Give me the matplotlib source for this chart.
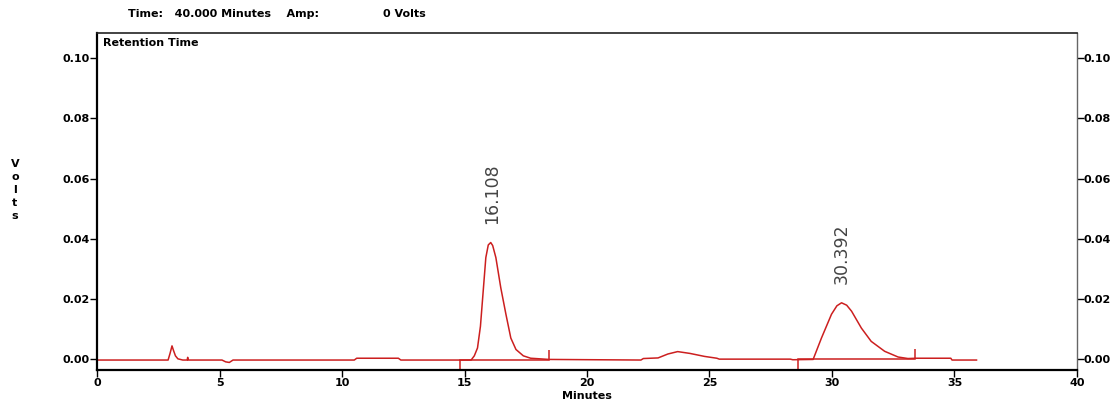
import matplotlib
matplotlib.use("Agg")
import matplotlib.pyplot as plt

# ---- data ----
time_min = [0.0, 2.9, 2.98, 3.06, 3.12, 3.2, 3.3, 3.5, 3.68, 3.7, 3.72, 5.1, 5.25, 5.4, 5.55,
            10.5, 10.6, 12.3, 12.4, 15.27, 15.4, 15.53, 15.65, 15.73, 15.87, 15.97, 16.07,
            16.15, 16.28, 16.48, 16.69, 16.89, 17.1, 17.4, 17.7, 18.45,
            22.2, 22.3, 22.9, 23.3, 23.7, 24.2, 24.8, 25.3, 25.4, 28.3, 28.4,
            29.23, 29.57, 29.98, 30.2, 30.39, 30.6, 30.8, 31.2, 31.6, 32.15, 32.7, 33.1,
            33.45, 34.85, 34.9, 35.9]
volts = [-0.0002, -0.0002, 0.0020, 0.0045, 0.0030, 0.0012, 0.0002, -0.0002, -0.0002, 0.0007, -0.0002,
         -0.0002, -0.0008, -0.0010, -0.0002, -0.0002, 0.0004, 0.0004, -0.0002, -0.0002, 0.0012,
         0.0038, 0.0110, 0.0193, 0.0338, 0.0380, 0.0388, 0.0378, 0.0338, 0.0238, 0.0150, 0.0071,
         0.0033, 0.0012, 0.0004, 0.0000,
         -0.0002, 0.0003, 0.0005, 0.0018, 0.0026, 0.0020, 0.0010, 0.0004, 0.0001, 0.0001, -0.0001,
         0.0000, 0.0071, 0.0150, 0.0178, 0.0188, 0.0180, 0.0160, 0.0104, 0.0060, 0.0027, 0.0008,
         0.0003, 0.0004, 0.0004, -0.0002, -0.0002]

# integration event markers
marker_times = [14.8, 18.45, 28.6, 33.4]
marker_low = [-0.0035, 0.0000, -0.0035, 0.0003]
marker_high = [-0.0002, 0.0030, 0.0000, 0.0033]

# integration baselines
base_start = [14.8, 28.6]
base_end = [18.45, 33.4]
base_level = [-0.0002, 0.0000]

peak_times = [16.108, 30.392]
peak_heights = [0.0388, 0.0188]
peak_labels = ["16.108", "30.392"]

x_ticks = [0, 5, 10, 15, 20, 25, 30, 35, 40]
y_ticks = [0.00, 0.02, 0.04, 0.06, 0.08, 0.10]
y_tick_labels = ["0.00", "0.02", "0.04", "0.06", "0.08", "0.10"]

RED = "#cc1f1f"
FS = 8.0

fig = plt.figure(figsize=(11.18, 4.09), dpi=100)
ax = fig.add_axes([0.0868, 0.0954, 0.8765, 0.8236])

ax.plot(time_min, volts, color=RED, lw=1.1)
for s, e, b in zip(base_start, base_end, base_level):
    ax.plot([s, e], [b, b], color=RED, lw=1.1)
ax.vlines(marker_times, marker_low, marker_high, color=RED, lw=1.1)

for t, h, lab in zip(peak_times, peak_heights, peak_labels):
    ax.text(t, h + 0.0062, lab, rotation=90, ha="center", va="bottom",
            fontsize=12.5, color="#444444")

ax.set_xlim(0, 40)
ax.set_ylim(-0.0035, 0.1083)
ax.set_xticks(x_ticks)
ax.set_xticklabels([str(v) for v in x_ticks])
ax.set_yticks(y_ticks)
ax.set_yticklabels(y_tick_labels)

ax.tick_params(axis="both", direction="out", length=5, width=1, labelsize=FS,
               colors="black", pad=0)
ax.tick_params(axis="x", pad=1)
ax.tick_params(axis="y", right=True, labelright=True)
for lab in ax.get_xticklabels() + ax.get_yticklabels():
    lab.set_fontweight("bold")

for side in ["left", "bottom"]:
    ax.spines[side].set_linewidth(1.6)
    ax.spines[side].set_color("black")
ax.spines["top"].set_linewidth(1.2)
ax.spines["top"].set_color("#222222")
ax.spines["right"].set_linewidth(1.0)
ax.spines["right"].set_color("#666666")

ax.set_xlabel("Minutes", fontsize=FS, fontweight="bold", labelpad=2)
ax.text(0.006, 0.985, "Retention Time", transform=ax.transAxes, ha="left", va="top",
        fontsize=FS, fontweight="bold")

fig.text(128 / 1118, 1 - 14 / 409, "Time:   40.000 Minutes    Amp:",
         ha="left", va="center", fontsize=FS, fontweight="bold")
fig.text(383 / 1118, 1 - 14 / 409, "0 Volts",
         ha="left", va="center", fontsize=FS, fontweight="bold")
fig.text(15 / 1118, 1 - 190 / 409, "V\no\nl\nt\ns", ha="center", va="center",
         fontsize=FS, fontweight="bold", linespacing=1.4)

fig.savefig("out.png", dpi=100)
